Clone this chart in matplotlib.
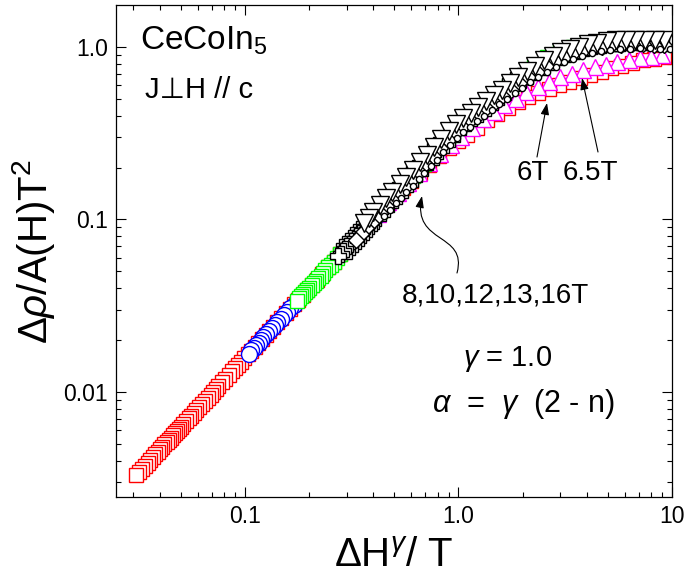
import matplotlib
matplotlib.use("Agg")
import matplotlib.pyplot as plt
from matplotlib.patches import FancyArrowPatch
from matplotlib.path import Path
from matplotlib.ticker import NullFormatter
from matplotlib.transforms import Affine2D

plt.rcParams["font.family"] = ["Liberation Sans", "DejaVu Sans"]
plt.rcParams["mathtext.fontset"] = "custom"
plt.rcParams["mathtext.rm"] = "Liberation Sans"
plt.rcParams["mathtext.it"] = "Liberation Sans:italic"
plt.rcParams["mathtext.bf"] = "Liberation Sans:bold"

# 6T (red squares)
red_x = [0.031, 0.032, 0.033, 0.034, 0.035, 0.036, 0.037, 0.038, 0.039, 0.040,
         0.041, 0.042, 0.043, 0.044, 0.045, 0.046, 0.047, 0.048, 0.049, 0.050,
         0.0515, 0.053, 0.0545, 0.056, 0.0575, 0.059, 0.061, 0.063, 0.065, 0.067,
         0.069, 0.071, 0.073, 0.075, 0.078, 0.081, 0.084, 0.087, 0.090, 0.093,
         0.096, 0.099, 0.103, 0.107, 0.111, 0.115, 0.120, 0.125, 0.130, 0.136,
         0.142, 0.148, 0.155, 0.162, 0.170, 0.178, 0.187, 0.196, 0.206, 0.217,
         0.23, 0.245, 0.26, 0.28, 0.30, 0.32, 0.345, 0.37, 0.40, 0.43, 0.46, 0.50,
         0.55, 0.60, 0.66, 0.73, 0.81, 0.90, 1.0, 1.1, 1.22, 1.36, 1.52, 1.7, 1.9,
         2.12, 2.37, 2.65, 2.96, 3.3, 3.7, 4.15, 4.65, 5.2, 5.8, 6.5, 7.3, 8.2, 9.2]
red_y = [0.00330, 0.00344, 0.00359, 0.00374, 0.00388, 0.00403, 0.00418, 0.00434, 0.00449, 0.00464,
         0.00480, 0.00496, 0.00511, 0.00528, 0.00544, 0.00560, 0.00576, 0.00593, 0.00609, 0.00626,
         0.00651, 0.00677, 0.00703, 0.00729, 0.00755, 0.00782, 0.00818, 0.00853, 0.00890, 0.00927,
         0.00964, 0.01002, 0.01039, 0.01078, 0.01136, 0.01195, 0.01255, 0.01315, 0.01376, 0.01438,
         0.01501, 0.01563, 0.01649, 0.01735, 0.01823, 0.01911, 0.02023, 0.02138, 0.02253, 0.02393,
         0.02536, 0.02680, 0.02852, 0.03025, 0.03227, 0.03432, 0.03667, 0.03900, 0.04174, 0.04475,
         0.0484, 0.0527, 0.0570, 0.0630, 0.0691, 0.0753, 0.0833, 0.0915, 0.1016, 0.1119, 0.1225, 0.1370,
         0.153, 0.168, 0.187, 0.208, 0.232, 0.258, 0.285, 0.31, 0.34, 0.375, 0.41, 0.445, 0.48,
         0.51, 0.54, 0.57, 0.60, 0.63, 0.66, 0.69, 0.72, 0.75, 0.78, 0.81, 0.835, 0.855, 0.87]

# 6.5T (magenta triangles)
mag_x = [0.42, 0.47, 0.52, 0.58, 0.65, 0.73, 0.82, 0.92, 1.03, 1.16, 1.30, 1.46, 1.64,
         1.85, 2.08, 2.35, 2.65, 3.0, 3.4, 3.85, 4.35, 4.9, 5.55, 6.3, 7.1, 8.0, 9.0]
mag_y = [0.108, 0.126, 0.143, 0.163, 0.186, 0.212, 0.240, 0.270, 0.300, 0.340, 0.380, 0.420, 0.460,
         0.500, 0.545, 0.585, 0.625, 0.665, 0.70, 0.735, 0.765, 0.79, 0.82, 0.845, 0.865, 0.88, 0.895]

# blue circles
blue_x = [0.104, 0.107, 0.110, 0.113, 0.116, 0.119, 0.122, 0.126, 0.130, 0.134, 0.138, 0.142,
          0.147, 0.152, 0.157, 0.163, 0.169, 0.176, 0.184, 0.193, 0.203, 0.215, 0.23, 0.25,
          0.27, 0.30, 0.33, 0.37, 0.41, 0.46, 0.52, 0.59, 0.67, 0.76, 0.87, 1.0,
          1.15, 1.33, 1.55, 1.8, 2.1, 2.45, 2.9, 3.4, 4.0, 4.7, 5.5, 6.5, 7.7, 9.1]
blue_y = [0.0167, 0.0174, 0.0180, 0.0187, 0.0193, 0.0200, 0.0207, 0.0216, 0.0225, 0.0235, 0.0244, 0.0254,
          0.0266, 0.0278, 0.0290, 0.0305, 0.0320, 0.0338, 0.0359, 0.0382, 0.0409, 0.0442, 0.0484, 0.0541,
          0.0600, 0.0691, 0.0785, 0.0915, 0.1050, 0.1225, 0.1444, 0.1710, 0.2027, 0.2400, 0.2877, 0.345,
          0.395, 0.455, 0.53, 0.62, 0.71, 0.80, 0.885, 0.95, 1.0, 1.04, 1.06, 1.07, 1.07, 1.06]

# green squares
green_x = [0.176, 0.180, 0.184, 0.188, 0.192, 0.196, 0.200, 0.205, 0.210, 0.215, 0.220, 0.226,
           0.232, 0.238, 0.245, 0.252, 0.26, 0.27, 0.28, 0.29, 0.31, 0.33, 0.36, 0.39,
           0.43, 0.48, 0.54, 0.61, 0.69, 0.78, 0.89, 1.01, 1.15, 1.31, 1.5, 1.72,
           1.97, 2.26, 2.6, 3.0, 3.45, 4.0, 4.6, 5.3, 6.1, 7.0, 8.1, 9.3]
green_y = [0.0338, 0.0349, 0.0359, 0.0369, 0.0380, 0.0390, 0.0401, 0.0415, 0.0428, 0.0442, 0.0456, 0.0473,
           0.0490, 0.0507, 0.0527, 0.0547, 0.0570, 0.0600, 0.0630, 0.0660, 0.0722, 0.0785, 0.0882, 0.0982,
           0.1119, 0.1297, 0.1518, 0.1788, 0.2109, 0.2485, 0.2966, 0.350, 0.395, 0.450, 0.515, 0.59,
           0.68, 0.77, 0.87, 0.945, 1.0, 1.04, 1.07, 1.09, 1.10, 1.10, 1.10, 1.10]

# black open squares
sq_x = [0.29, 0.30, 0.31, 0.32, 0.33, 0.34, 0.35, 0.36, 0.37, 0.38, 0.39, 0.40, 0.42, 0.44,
        0.46, 0.48, 0.50, 0.53, 0.56, 0.59, 0.62, 0.66, 0.70, 0.74, 0.78, 0.83, 0.88, 0.93,
        0.99, 1.05, 1.12, 1.2, 1.3, 1.4, 1.5, 1.62, 1.75, 1.9, 2.05, 2.2, 2.4, 2.6, 2.85,
        3.1, 3.4, 3.75, 4.1, 4.5, 5.0, 5.5, 6.1, 6.8, 7.5, 8.3, 9.2]
sq_y = [0.0660, 0.0691, 0.0722, 0.0753, 0.0785, 0.0817, 0.0849, 0.0882, 0.0915, 0.0948, 0.0982, 0.1016,
        0.1084, 0.1154, 0.1225, 0.1297, 0.1370, 0.1481, 0.1595, 0.1710, 0.1827, 0.1987, 0.2150, 0.2316,
        0.2485, 0.2701, 0.2921, 0.3146, 0.3420, 0.360, 0.385, 0.410, 0.445, 0.480, 0.510, 0.550, 0.590,
        0.640, 0.680, 0.720, 0.770, 0.820, 0.870, 0.910, 0.950, 0.980, 1.010, 1.030, 1.050, 1.060,
        1.070, 1.070, 1.070, 1.070, 1.060]

# black open plus
plus_x = [0.274, 0.281, 0.288, 0.295, 0.302, 0.310, 0.318, 0.326, 0.335, 0.344, 0.353, 0.363,
          0.373, 0.384, 0.395, 0.41, 0.43, 0.45, 0.47, 0.50, 0.53, 0.56, 0.60, 0.64, 0.69, 0.74,
          0.80, 0.86, 0.93, 1.0, 1.08, 1.17, 1.27, 1.38, 1.5, 1.64, 1.8, 1.97, 2.16, 2.38, 2.62,
          2.9, 3.2, 3.55, 3.95, 4.4, 4.9, 5.5, 6.2, 7.0, 7.9, 8.9, 10.0]
plus_y = [0.0612, 0.0633, 0.0654, 0.0675, 0.0697, 0.0722, 0.0747, 0.0772, 0.0801, 0.0830, 0.0859, 0.0892,
          0.0925, 0.0961, 0.0998, 0.1050, 0.1119, 0.1189, 0.1261, 0.1370, 0.1481, 0.1595, 0.1748, 0.1907,
          0.2109, 0.2316, 0.2571, 0.2833, 0.3146, 0.345, 0.37, 0.40, 0.435, 0.47, 0.51, 0.555, 0.61,
          0.66, 0.71, 0.765, 0.82, 0.875, 0.92, 0.96, 1.0, 1.025, 1.045, 1.06, 1.07, 1.07, 1.07,
          1.065, 1.06]

# black open diamonds
dia_x = [0.33, 0.35, 0.37, 0.39, 0.41, 0.43, 0.46, 0.49, 0.52, 0.56, 0.60, 0.65, 0.70, 0.76, 0.82,
         0.89, 0.96, 1.04, 1.13, 1.23, 1.34, 1.46, 1.6, 1.76, 1.93, 2.12, 2.33, 2.57, 2.83,
         3.12, 3.45, 3.82, 4.23, 4.7, 5.2, 5.8, 6.5, 7.3, 8.2, 9.2]
dia_y = [0.076, 0.082, 0.089, 0.095, 0.102, 0.109, 0.119, 0.129, 0.140, 0.155, 0.170, 0.189, 0.209, 0.233,
         0.258, 0.288, 0.318, 0.345, 0.375, 0.405, 0.44, 0.475, 0.52, 0.565, 0.615, 0.665, 0.72,
         0.775, 0.83, 0.875, 0.92, 0.955, 0.985, 1.005, 1.02, 1.03, 1.035, 1.035, 1.03, 1.03]

# black open down triangles
tri_x = [0.36, 0.38, 0.40, 0.43, 0.46, 0.49, 0.53, 0.57, 0.61, 0.66, 0.71, 0.77, 0.83, 0.90, 0.97,
         1.05, 1.14, 1.24, 1.35, 1.47, 1.6, 1.75, 1.91, 2.09, 2.29, 2.51, 2.76, 3.03, 3.33, 3.67,
         4.05, 4.47, 4.94, 5.47, 6.06, 6.72, 7.46, 8.3, 9.2]
tri_y = [0.095, 0.102, 0.110, 0.121, 0.133, 0.144, 0.160, 0.177, 0.194, 0.215, 0.237, 0.264, 0.291,
         0.324, 0.358, 0.385, 0.415, 0.45, 0.485, 0.525, 0.565, 0.62, 0.67, 0.725, 0.78, 0.835,
         0.885, 0.93, 0.97, 1.005, 1.035, 1.06, 1.08, 1.09, 1.10, 1.10, 1.10, 1.09, 1.09]

# black small circles
circ_x = [0.45, 0.48, 0.51, 0.54, 0.57, 0.61, 0.65, 0.69, 0.74, 0.79, 0.85, 0.91, 0.98, 1.05,
          1.13, 1.22, 1.32, 1.43, 1.55, 1.68, 1.83, 1.99, 2.17, 2.37, 2.6, 2.85, 3.13, 3.45,
          3.8, 4.2, 4.65, 5.15, 5.7, 6.35, 7.05, 7.85, 8.75, 9.75]
circ_y = [0.105, 0.114, 0.124, 0.134, 0.144, 0.157, 0.171, 0.186, 0.204, 0.222, 0.245, 0.269, 0.297,
          0.32, 0.345, 0.37, 0.40, 0.43, 0.465, 0.50, 0.54, 0.58, 0.625, 0.67, 0.72, 0.77, 0.815,
          0.855, 0.89, 0.92, 0.945, 0.96, 0.97, 0.975, 0.98, 0.98, 0.975, 0.975]

x_ticks = [0.1, 1.0, 10.0]
x_tick_labels = ["0.1", "1.0", "10"]
y_ticks = [0.01, 0.1, 1.0]
y_tick_labels = ["0.01", "0.1", "1.0"]

W, H = 687, 585
fig = plt.figure(figsize=(W / 100, H / 100), dpi=100)
ax = fig.add_axes([116 / W, 88 / H, 556 / W, 492 / H])
pix = Affine2D().scale(1 / W, -1 / H).translate(0, 1) + fig.transFigure

series = [
    (red_x, red_y, "s", 9.5, "#ff0000"),
    (mag_x, mag_y, "^", 11, "#ff00ff"),
    (blue_x, blue_y, "o", 11.5, "#0000ff"),
    (green_x, green_y, "s", 9.5, "#00ff00"),
    (sq_x, sq_y, "s", 11, "black"),
    (plus_x, plus_y, "P", 11.5, "black"),
    (dia_x, dia_y, "D", 8, "black"),
    (tri_x, tri_y, "v", 13.5, "black"),
    (circ_x, circ_y, "o", 4.5, "black"),
]
for xs, ys, m, ms, c in series:
    # drawn from high to low x so the first points end up on top
    ax.plot(xs[::-1], ys[::-1], ls="none", marker=m, ms=ms, mfc="white", mec=c, mew=1.0)

ax.set_xscale("log")
ax.set_yscale("log")
ax.set_xlim(0.0249, 10.0)
ax.set_ylim(0.00246, 1.75)
ax.set_xticks(x_ticks, x_tick_labels)
ax.set_yticks(y_ticks, y_tick_labels)
ax.xaxis.set_minor_formatter(NullFormatter())
ax.yaxis.set_minor_formatter(NullFormatter())
ax.tick_params(which="both", direction="in", top=True, right=True, width=0.8)
ax.tick_params(which="major", length=7, labelsize=16.5, pad=6)
ax.tick_params(which="minor", length=3.5)
for s in ax.spines.values():
    s.set_linewidth(0.9)

ax.set_xlabel(r"$\Delta$H$^{\gamma}$/ T", fontsize=29, labelpad=6)
ax.set_ylabel(r"$\Delta\rho$/A(H)T$^2$", fontsize=29, labelpad=4)

fig.text(140 / W, 1 - 50 / H, "CeCoIn$_5$", fontsize=24)
fig.text(145 / W, 1 - 98 / H, "J\u22a5H // c", fontsize=21)
fig.text(517 / W, 1 - 180 / H, "6T", fontsize=20)
fig.text(563 / W, 1 - 180 / H, "6.5T", fontsize=20)
fig.text(402 / W, 1 - 303 / H, "8,10,12,13,16T", fontsize=20)
fig.text(463 / W, 1 - 366 / H, r"$\gamma$ = 1.0", fontsize=21)
fig.text(432 / W, 1 - 412 / H, r"$\alpha$  =  $\gamma$  (2 - n)", fontsize=22)

astyle = "-|>,head_length=0.5,head_width=0.18"
for tail, head in [((537, 157), (547, 103)), ((598, 152), (582, 78))]:
    fig.add_artist(FancyArrowPatch(tail, head, arrowstyle=astyle, mutation_scale=14,
                                   lw=0.8, color="black", transform=pix,
                                   shrinkA=0, shrinkB=0))
curve = Path([(457, 273), (468, 232), (412, 245), (422, 196)],
             [Path.MOVETO, Path.CURVE4, Path.CURVE4, Path.CURVE4])
fig.add_artist(FancyArrowPatch(path=curve, arrowstyle=astyle, mutation_scale=14,
                               lw=0.8, color="black", transform=pix))

fig.savefig("out.png", dpi=100)
